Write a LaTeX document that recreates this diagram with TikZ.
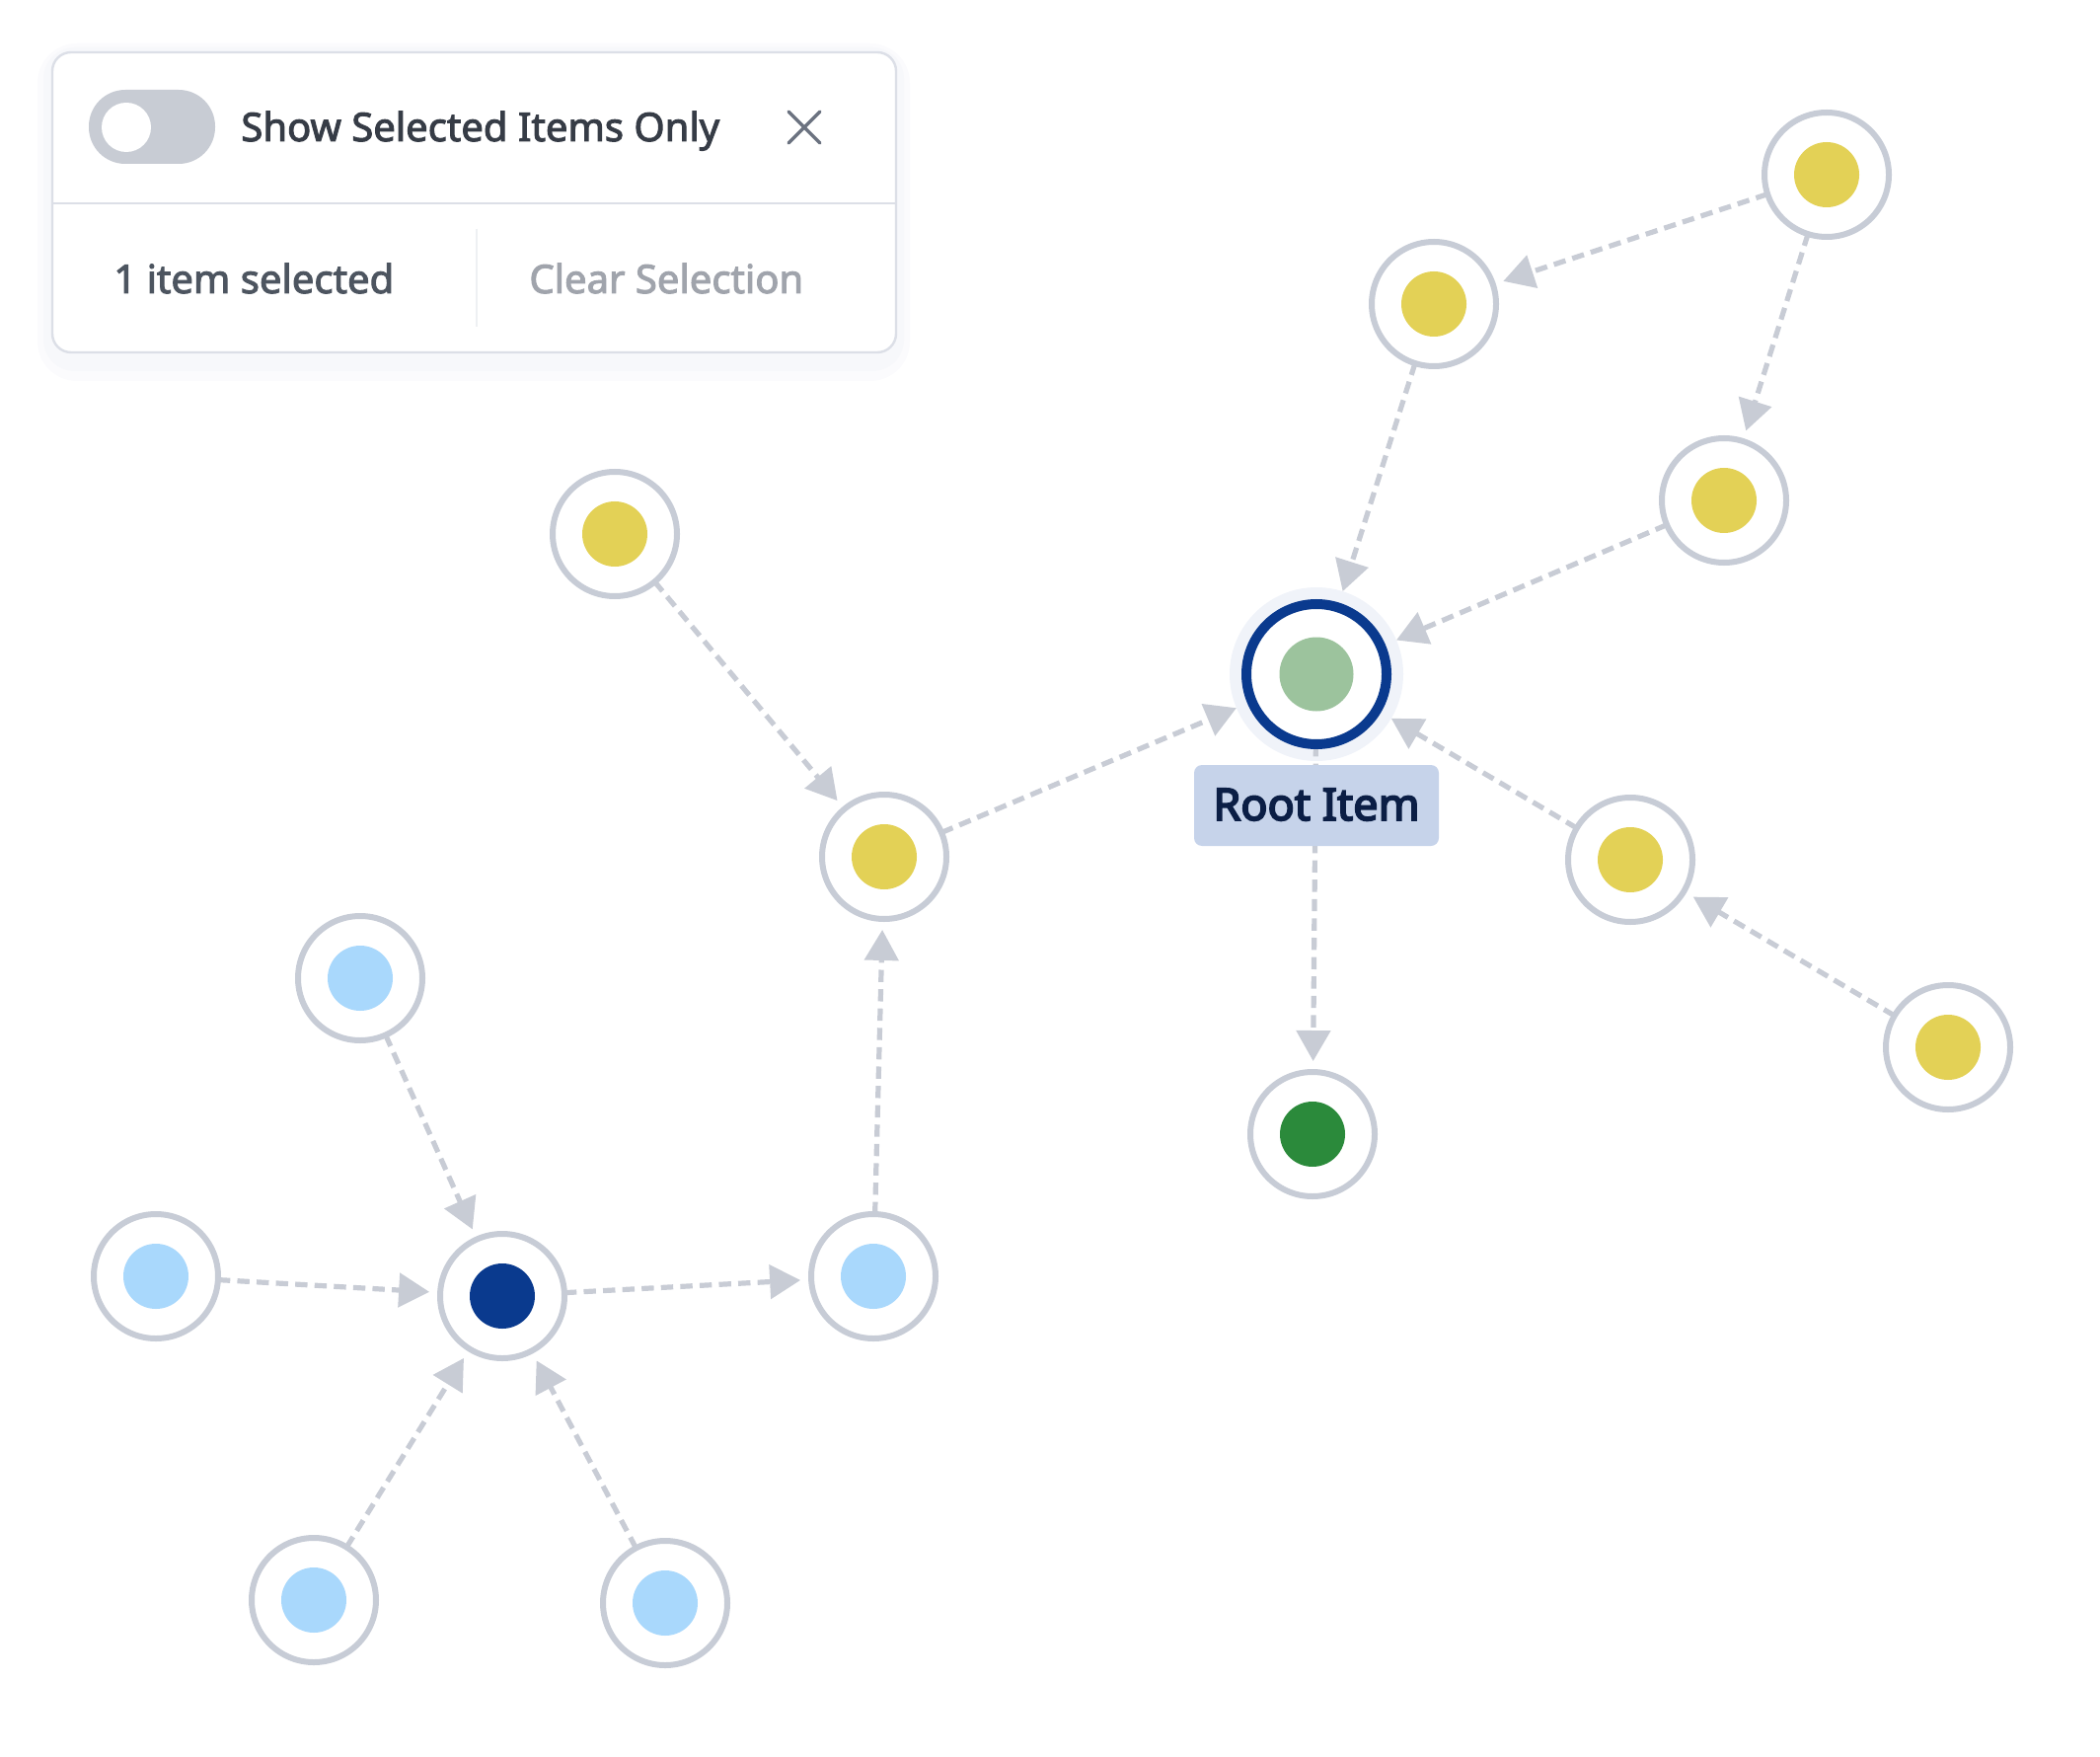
\documentclass[tikz,border=0pt]{standalone}
\usepackage{fontspec}
\setmainfont{Noto Sans}
\newfontfamily\medfont[FakeBold=2.5]{Noto Sans}
\newfontfamily\semifont[FakeBold=4]{Noto Sans}
\usetikzlibrary{arrows.meta}
\definecolor{ring}{HTML}{C7CCD6}
\definecolor{edgec}{HTML}{C8CCD5}
\definecolor{ydot}{HTML}{E3D156}
\definecolor{bdot}{HTML}{A9D8FC}
\definecolor{navy}{HTML}{0A3A8E}
\definecolor{rgreen}{HTML}{9CC39D}
\definecolor{dgreen}{HTML}{2B8A3B}
\definecolor{lblbg}{HTML}{C6D3EA}
\definecolor{lbltxt}{HTML}{0B1E45}
\definecolor{halo}{HTML}{F0F3F9}
\definecolor{pborder}{HTML}{DCDFE7}
\definecolor{shadowa}{HTML}{FBFBFD}
\definecolor{shadowb}{HTML}{F7F8FB}
\definecolor{toggle}{HTML}{C8CCD4}
\definecolor{xgray}{HTML}{6B7280}
\definecolor{tdark}{HTML}{363C46}
\definecolor{tmid}{HTML}{4D5560}
\definecolor{tlight}{HTML}{A0A4AC}
\definecolor{vdiv}{HTML}{EEF0F3}
\pgfdeclarelayer{background}
\pgfsetlayers{background,main}
\tikzset{
  item/.style={circle, draw=ring, line width=3pt, fill=white, minimum size=63pt,
    inner sep=0pt, outer sep=0pt,
    path picture={\fill[#1] (path picture bounding box.center) circle (16.5pt);}},
  rootitem/.style={circle, draw=navy, line width=5pt, fill=white, minimum size=71pt,
    inner sep=0pt, outer sep=0pt,
    path picture={\fill[rgreen] (path picture bounding box.center) circle (18.75pt);}},
  edge/.style={draw=edgec, line width=2.6pt, dash pattern=on 6.2pt off 3.6pt,
    -{Triangle[length=15.5pt,width=17pt]}, shorten >=5.5pt},
  toroot/.style={shorten >=8.5pt},
  ptext/.style={anchor=base west, inner sep=0pt, font=\fontsize{20}{24}\selectfont}
}
\begin{document}
\begin{tikzpicture}[x=0.5pt,y=-0.5pt]
\useasboundingbox (0,0) rectangle (2128,1780);
% panel shadow
\fill[shadowa, rounded corners=20pt] (38,44) rectangle (922,386);
\fill[shadowb, rounded corners=16pt] (44,48) rectangle (916,376);
\fill[white, draw=pborder, line width=1.2pt, rounded corners=9.5pt] (53,53) rectangle (908,357);
\draw[pborder, line width=1.2pt] (53,206) -- (908,206);
\draw[vdiv, line width=1.2pt] (483,232) -- (483,331);
\fill[toggle, rounded corners=18.5pt] (90,91) rectangle (218,166);
\fill[white] (128,129) circle (12.5pt);
\draw[xgray, line width=1.7pt, line cap=round] (799,113) -- (831,145) (799,145) -- (831,113);
\node[ptext, text=tdark] (show) at (244,143) {\medfont Show Selected Items Only};
\node[ptext, text=tmid] (sel) at (115,297) {\medfont 1 item selected};
\node[ptext, text=tlight] (clear) at (536,297) {\medfont Clear Selection};
% nodes
\node[item=ydot] (Y1) at (1851,177) {};
\node[item=ydot] (Y2) at (1453,308) {};
\node[item=ydot] (Y3) at (1747,507) {};
\node[item=ydot] (Y4) at (623,541) {};
\node[rootitem] (Root) at (1334,683) {};
\node[item=ydot] (Y5) at (896,868) {};
\node[item=ydot] (Y6) at (1652,871) {};
\node[item=ydot] (Y7) at (1974,1061) {};
\node[item=dgreen] (G) at (1330,1149) {};
\node[item=bdot] (B1) at (365,991) {};
\node[item=bdot] (B2) at (158,1293) {};
\node[item=navy] (C) at (509,1313) {};
\node[item=bdot] (B3) at (885,1293) {};
\node[item=bdot] (B4) at (318,1621) {};
\node[item=bdot] (B5) at (674,1624) {};
% edges
\begin{pgfonlayer}{background}
\fill[halo] (Root) circle (44pt);
\draw[edge] (Y1) -- (Y2);
\draw[edge] (Y1) -- (Y3);
\draw[edge, toroot] (Y2) -- (Root);
\draw[edge, toroot] (Y3) -- (Root);
\draw[edge] (Y4) -- (Y5);
\draw[edge, toroot] (Y5) -- (Root);
\draw[edge, toroot] (Y6) -- (Root);
\draw[edge] (Y7) -- (Y6);
\draw[edge] (Root) -- (G);
\draw[edge] (B1) -- (C);
\draw[edge] (B2) -- (C);
\draw[edge] (C) -- (B3);
\draw[edge] (B4) -- (C);
\draw[edge] (B5) -- (C);
\draw[edge] (B3) -- (Y5);
\end{pgfonlayer}
% label
\node[fill=lblbg, rounded corners=4pt, minimum width=124pt, minimum height=41pt,
  inner sep=0pt] (lbl) at (1334,816) {};
\node[anchor=base, inner sep=0pt, text=lbltxt, font=\fontsize{22.5}{26}\selectfont]
  (lbltext) at (1334,831) {\semifont Root Item};
\end{tikzpicture}
\end{document}
